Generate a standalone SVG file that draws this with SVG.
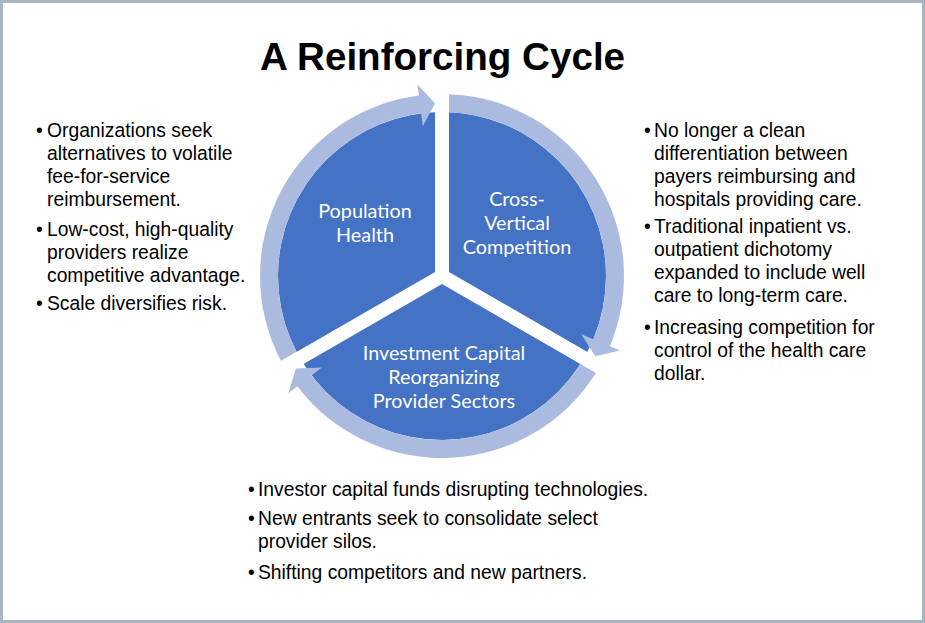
<svg xmlns="http://www.w3.org/2000/svg" width="925" height="623" viewBox="0 0 925 623">
<style>
.title{font-family:"Liberation Sans",Arial,sans-serif;font-weight:bold;font-size:38.6px;fill:#000}
.pie{fill:#4472c4}
.ring{fill:#abbbe0}
.gap{stroke:#fff;stroke-width:14;stroke-linecap:butt}
.lbl{font-family:Lato,"Open Sans",sans-serif;font-size:19.8px;fill:#fff;text-anchor:middle}
.txt{font-family:"Liberation Sans",Arial,sans-serif;font-size:19.3px;fill:#000}
</style>
<defs>
<path id="seg" d="M -161.0 84.87 A 182 182 0 0 1 -23.13 -180.5 L -24.52 -191.4 L -7 -172.86 L -19.19 -149.8 L -20.84 -162.7 A 164 164 0 0 0 -145.4 75.87 Z"/>
</defs>
<rect x="1.5" y="1.5" width="922" height="620" fill="#fff" stroke="#a9b6c2" stroke-width="3"/>
<text class="title" x="442.5" y="70" text-anchor="middle">A Reinforcing Cycle</text>
<g transform="translate(442,276)">
<g id="pie">
<circle class="pie" r="164"/>
<line class="gap" x1="0" y1="0" x2="0" y2="-170"/>
<line class="gap" x1="0" y1="0" x2="147.2" y2="85"/>
<line class="gap" x1="0" y1="0" x2="-147.2" y2="85"/>
</g>
<g id="connectors">
<use href="#seg" class="ring"/>
<use href="#seg" class="ring" transform="rotate(120)"/>
<use href="#seg" class="ring" transform="rotate(240)"/>
</g>
</g>
<g id="node-population">
<text class="lbl" x="365" y="218">Population<tspan x="365" dy="24">Health</tspan></text>
</g>
<g id="node-crossvertical">
<text class="lbl" x="517" y="206">Cross-<tspan x="517" dy="24">Vertical</tspan><tspan x="517" dy="24">Competition</tspan></text>
</g>
<g id="node-investment">
<text class="lbl" x="444" y="360">Investment Capital<tspan x="444" dy="24">Reorganizing</tspan><tspan x="444" dy="24">Provider Sectors</tspan></text>
</g>
<g id="text-left" class="txt">
<text x="36" y="137">•</text><text x="47" y="137">Organizations seek</text>
<text x="47" y="160">alternatives to volatile</text>
<text x="47" y="183">fee-for-service</text>
<text x="47" y="206">reimbursement.</text>
<text x="36" y="236">•</text><text x="47" y="236">Low-cost, high-quality</text>
<text x="47" y="259">providers realize</text>
<text x="47" y="282">competitive advantage.</text>
<text x="36" y="310">•</text><text x="47" y="310">Scale diversifies risk.</text>
</g>
<g id="text-right" class="txt">
<text x="644" y="137">•</text><text x="654" y="137">No longer a clean</text>
<text x="654" y="160">differentiation between</text>
<text x="654" y="183">payers reimbursing and</text>
<text x="654" y="206">hospitals providing care.</text>
<text x="644" y="233">•</text><text x="654" y="233">Traditional inpatient vs.</text>
<text x="654" y="256">outpatient dichotomy</text>
<text x="654" y="279">expanded to include well</text>
<text x="654" y="302">care to long-term care.</text>
<text x="644" y="334">•</text><text x="654" y="334">Increasing competition for</text>
<text x="654" y="357">control of the health care</text>
<text x="654" y="380">dollar.</text>
</g>
<g id="text-bottom" class="txt">
<text x="248" y="496">•</text><text x="258" y="496">Investor capital funds disrupting technologies.</text>
<text x="248" y="525">•</text><text x="258" y="525">New entrants seek to consolidate select</text>
<text x="258" y="548">provider silos.</text>
<text x="248" y="579">•</text><text x="258" y="579">Shifting competitors and new partners.</text>
</g>
</svg>
